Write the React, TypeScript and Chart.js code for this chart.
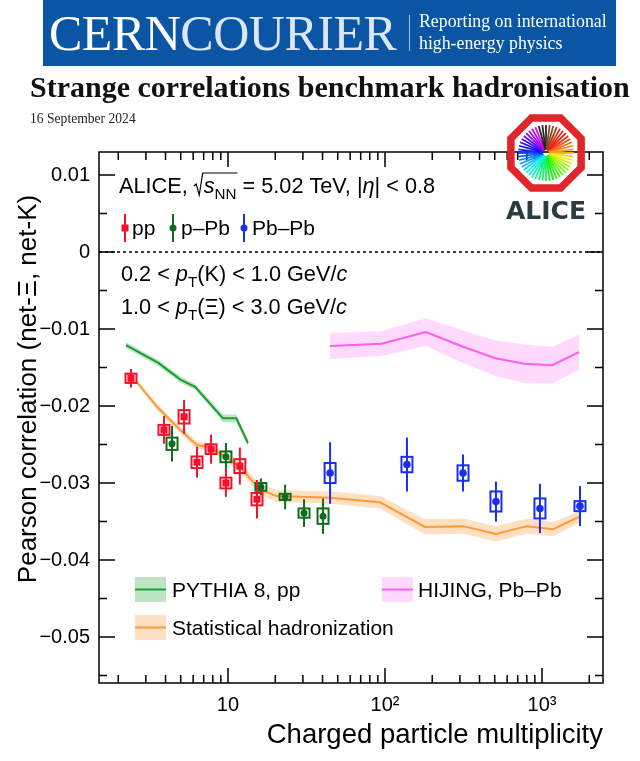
import React, { useEffect, useRef } from "react";
import { Chart, registerables } from "chart.js";
Chart.register(...registerables);

// ---------- axes ----------
const X_MIN = 1.508;
const X_MAX = 2446;
const Y_MIN = -0.05597;
const Y_MAX = 0.01299;
const xTickValues = [10, 100, 1000];
const xTickLabels = ["10", "10²", "10³"];
const yTickValues = [-0.05, -0.04, -0.03, -0.02, -0.01, 0, 0.01];
const yTickLabels = ["−0.05", "−0.04", "−0.03", "−0.02", "−0.01", "0", "0.01"];

// ---------- data: pp ----------
const ppX = [2.41, 3.91, 5.25, 6.35, 7.8, 9.7, 11.9, 15.3];
const ppY = [-0.0164, -0.0231, -0.0214, -0.0273, -0.0256, -0.03, -0.0278, -0.0321];
const ppStat = [0.0012, 0.0018, 0.0022, 0.002, 0.0019, 0.0018, 0.0024, 0.0025];
const ppSyst = [0.0006, 0.00065, 0.00087, 0.00075, 0.00063, 0.0007, 0.0009, 0.0008];

// ---------- data: p-Pb ----------
const pPbX = [4.4, 9.7, 16.2, 23.1, 30.5, 40.3];
const pPbY = [-0.0249, -0.0266, -0.0305, -0.0318, -0.0339, -0.0343];
const pPbStat = [0.0023, 0.0018, 0.0011, 0.0016, 0.0018, 0.0023];
const pPbSyst = [0.0008, 0.0007, 0.0005, 0.0004, 0.0006, 0.001];

// ---------- data: Pb-Pb ----------
const PbPbX = [44.7, 138, 314, 509, 970, 1745];
const PbPbY = [-0.0287, -0.0276, -0.0287, -0.0324, -0.0333, -0.033];
const PbPbStat = [0.004, 0.0035, 0.0024, 0.0026, 0.0032, 0.0026];
const PbPbSyst = [0.0013, 0.001, 0.001, 0.0013, 0.0013, 0.00065];

// ---------- models ----------
const pythiaX = [2.24, 3.6, 5.0, 6.17, 9.3, 11.3, 13.4];
const pythiaY = [-0.0121, -0.0144, -0.0166, -0.0175, -0.0216, -0.0216, -0.0248];
const pythiaErr = [0.0004, 0.0004, 0.0004, 0.0004, 0.0005, 0.0005, 0.0005];

const shX = [2.63, 3.53, 4.73, 6.35, 7.68, 9.3, 11.9, 16, 20.5, 44.7, 93, 180, 314, 509, 802, 1175, 1720];
const shY = [-0.0169, -0.0201, -0.0227, -0.0251, -0.0253, -0.0264, -0.0279, -0.0309, -0.0317, -0.0319, -0.0325, -0.0357, -0.0356, -0.0366, -0.0356, -0.036, -0.0344];
const shErr = [0.0003, 0.0004, 0.0004, 0.0005, 0.0005, 0.0005, 0.0006, 0.0007, 0.0008, 0.0008, 0.0008, 0.001, 0.001, 0.001, 0.001, 0.0009, 0.0008];

const hijingX = [44.7, 95, 182, 314, 505, 770, 1160, 1720];
const hijingY = [-0.0122, -0.0119, -0.0104, -0.0123, -0.0138, -0.0145, -0.0147, -0.013];
const hijingErr = [0.0017, 0.0016, 0.0018, 0.0021, 0.0023, 0.0025, 0.0024, 0.0023];

// ---------- styles ----------
const SANS = '"Liberation Sans", Arial, Helvetica, sans-serif';
const SERIF = '"Liberation Serif", "Times New Roman", serif';
const RED = "#f2132b";
const GREEN_PTS = "#0e6d1d";
const BLUE = "#1a2ef2";
const PYTHIA_LINE = "#1f9b33";
const PYTHIA_BAND = "rgba(70,185,90,0.36)";
const SH_LINE = "#ff9a3a";
const SH_BAND = "rgba(255,170,90,0.36)";
const HIJING_LINE = "#ff5cf0";
const HIJING_BAND = "rgba(255,140,245,0.32)";
const BOX_F = Math.pow(10, 5.5 / 157);

const series = [
  { label: "pp", x: ppX, y: ppY, stat: ppStat, syst: ppSyst, color: RED, style: "rect", r: 5 },
  { label: "p–Pb", x: pPbX, y: pPbY, stat: pPbStat, syst: pPbSyst, color: GREEN_PTS, style: "circle", r: 3.5 },
  { label: "Pb–Pb", x: PbPbX, y: PbPbY, stat: PbPbStat, syst: PbPbSyst, color: BLUE, style: "circle", r: 3.8 },
];

function band(xs: number[], ys: number[], es: number[], fillColor: string, lineColor: string, label: string) {
  const transparent = "rgba(0,0,0,0)";
  return [
    { label: label + " upper", data: xs.map((x, i) => ({ x, y: ys[i] + es[i] })), showLine: true, fill: "+1", backgroundColor: fillColor, borderColor: transparent, borderWidth: 0, pointRadius: 0, order: 10 },
    { label: label + " lower", data: xs.map((x, i) => ({ x, y: ys[i] - es[i] })), showLine: true, fill: false, backgroundColor: transparent, borderColor: transparent, borderWidth: 0, pointRadius: 0, order: 10 },
    { label, data: xs.map((x, i) => ({ x, y: ys[i] })), showLine: true, fill: false, borderColor: lineColor, borderWidth: 2, pointRadius: 0, order: 5 },
  ];
}

type Part = { t: string; it?: boolean; sub?: boolean };
function drawRich(ctx: CanvasRenderingContext2D, x: number, base: number, parts: Part[], size: number) {
  let cx = x;
  for (const p of parts) {
    const s = p.sub ? size * 0.7 : size;
    ctx.font = `${p.it ? "italic " : ""}${s}px ${SANS}`;
    ctx.fillText(p.t, cx, base + (p.sub ? size * 0.28 : 0));
    cx += ctx.measureText(p.t).width;
  }
  return cx;
}

function rayColor(tp: number) {
  if (tp < 300) return `hsl(${Math.round(tp)}, 90%, ${tp > 200 ? 50 : 52}%)`;
  if (tp < 318) return "#262626";
  if (tp < 340) return "#8a4a1e";
  return "hsl(8, 90%, 50%)";
}

const decorPlugin = {
  id: "decor",
  beforeDatasetsDraw(chart: any) {
    const { ctx, chartArea: a, scales } = chart;
    const y0 = scales.y.getPixelForValue(0);
    ctx.save();
    ctx.strokeStyle = "#000";
    ctx.lineWidth = 1.5;
    ctx.setLineDash([3, 3]);
    ctx.beginPath();
    ctx.moveTo(a.left, y0);
    ctx.lineTo(a.right, y0);
    ctx.stroke();
    ctx.restore();
  },
  beforeDatasetDraw(chart: any, args: any) {
    const ds = chart.data.datasets[args.index];
    const s = series.find((q) => q.label === ds.label);
    if (!s) return;
    const { ctx, scales } = chart;
    const xs = scales.x, ys = scales.y;
    ctx.save();
    ctx.strokeStyle = s.color;
    ctx.lineWidth = 2;
    s.x.forEach((xv, i) => {
      const px = xs.getPixelForValue(xv);
      ctx.beginPath();
      ctx.moveTo(px, ys.getPixelForValue(s.y[i] + s.stat[i]));
      ctx.lineTo(px, ys.getPixelForValue(s.y[i] - s.stat[i]));
      ctx.stroke();
      const x1 = xs.getPixelForValue(xv / BOX_F), x2 = xs.getPixelForValue(xv * BOX_F);
      const y1 = ys.getPixelForValue(s.y[i] + s.syst[i]), y2 = ys.getPixelForValue(s.y[i] - s.syst[i]);
      ctx.strokeRect(x1, y1, x2 - x1, y2 - y1);
    });
    ctx.restore();
  },
  afterDraw(chart: any) {
    const { ctx, chartArea: a, scales } = chart;
    const xs = scales.x, ys = scales.y;
    ctx.save();
    // frame
    ctx.strokeStyle = "#000";
    ctx.lineWidth = 1.5;
    ctx.strokeRect(a.left, a.top, a.right - a.left, a.bottom - a.top);
    // y ticks
    ctx.beginPath();
    for (let v = -0.055; v <= 0.0125; v += 0.005) {
      const py = ys.getPixelForValue(v);
      const major = Math.abs(Math.round(v * 100) - v * 100) < 1e-6;
      const len = major ? 16 : 8;
      ctx.moveTo(a.left, py); ctx.lineTo(a.left + len, py);
      ctx.moveTo(a.right, py); ctx.lineTo(a.right - len, py);
    }
    // x ticks
    for (const d of [1, 10, 100, 1000]) {
      for (let m = 1; m <= 9; m++) {
        const v = m * d;
        if (v < X_MIN || v > X_MAX) continue;
        const px = xs.getPixelForValue(v);
        const len = m === 1 ? 15 : 8;
        ctx.moveTo(px, a.bottom); ctx.lineTo(px, a.bottom - len);
        ctx.moveTo(px, a.top); ctx.lineTo(px, a.top + len);
      }
    }
    ctx.stroke();

    // axis titles
    ctx.fillStyle = "#000";
    ctx.font = `27.5px ${SANS}`;
    ctx.textAlign = "right";
    ctx.textBaseline = "alphabetic";
    ctx.fillText("Charged particle multiplicity", a.right, 743);
    ctx.save();
    ctx.translate(36, 389);
    ctx.rotate(-Math.PI / 2);
    ctx.textAlign = "center";
    ctx.font = `26px ${SANS}`;
    ctx.fillText("Pearson correlation (net-Ξ, net-K)", 0, 0);
    ctx.restore();

    // annotations
    ctx.textAlign = "left";
    const F = 21.7;
    let cx = drawRich(ctx, 119, 193, [{ t: "ALICE, " }], F);
    // radical sign
    ctx.lineWidth = 1.2;
    ctx.strokeStyle = "#000";
    const base = 193;
    const rStart = cx;
    cx = drawRich(ctx, rStart + 10, base, [{ t: "s", it: true }, { t: "NN", sub: true }], F);
    ctx.beginPath();
    ctx.moveTo(rStart, base - 7);
    ctx.lineTo(rStart + 2.5, base - 9);
    ctx.lineTo(rStart + 5.5, base + 2);
    ctx.lineTo(rStart + 9, base - 20);
    ctx.lineTo(cx + 1, base - 20);
    ctx.stroke();
    drawRich(ctx, cx, base, [{ t: " = 5.02 TeV, |" }, { t: "η", it: true }, { t: "| < 0.8" }], F);

    drawRich(ctx, 121, 281, [{ t: "0.2 < " }, { t: "p", it: true }, { t: "T", sub: true }, { t: "(K) < 1.0 GeV/" }, { t: "c", it: true }], F);
    drawRich(ctx, 121, 314, [{ t: "1.0 < " }, { t: "p", it: true }, { t: "T", sub: true }, { t: "(Ξ) < 3.0 GeV/" }, { t: "c", it: true }], F);

    // top legend (data)
    const legItems = [
      { s: series[0], mx: 125, tx: 132 },
      { s: series[1], mx: 173, tx: 181 },
      { s: series[2], mx: 244, tx: 252 },
    ];
    for (const it of legItems) {
      ctx.strokeStyle = it.s.color;
      ctx.fillStyle = it.s.color;
      ctx.lineWidth = 2;
      ctx.beginPath();
      ctx.moveTo(it.mx, 214); ctx.lineTo(it.mx, 242);
      ctx.stroke();
      ctx.beginPath();
      if (it.s.style === "rect") ctx.rect(it.mx - 3.5, 224.5, 7, 7);
      else ctx.arc(it.mx, 228, 3.5, 0, Math.PI * 2);
      ctx.fill();
      ctx.fillStyle = "#000";
      drawRich(ctx, it.tx, 235, [{ t: it.s.label }], 21);
    }

    // bottom legend (models)
    const models = [
      { fill: PYTHIA_BAND, line: PYTHIA_LINE, x: 135, y: 577, tx: 172, base: 597, text: "PYTHIA 8, pp" },
      { fill: HIJING_BAND, line: HIJING_LINE, x: 382, y: 577, tx: 418, base: 597, text: "HIJING, Pb–Pb" },
      { fill: SH_BAND, line: SH_LINE, x: 135, y: 615, tx: 172, base: 635, text: "Statistical hadronization" },
    ];
    for (const m of models) {
      ctx.fillStyle = m.fill;
      ctx.fillRect(m.x, m.y, 31, 25);
      ctx.strokeStyle = m.line;
      ctx.lineWidth = 2;
      ctx.beginPath();
      ctx.moveTo(m.x, m.y + 12.5); ctx.lineTo(m.x + 31, m.y + 12.5);
      ctx.stroke();
      ctx.fillStyle = "#000";
      drawRich(ctx, m.tx, m.base, [{ t: m.text }], 21);
    }

    // ALICE logo
    const lx = 546, ly = 153;
    for (let i = 0; i < 48; i++) {
      const th = (i * 360) / 48;
      const tp = (th + 45) % 360;
      const rad = (th * Math.PI) / 180;
      ctx.strokeStyle = rayColor(tp);
      ctx.lineWidth = 1.8;
      ctx.beginPath();
      ctx.moveTo(lx + 3 * Math.cos(rad), ly + 3 * Math.sin(rad));
      ctx.lineTo(lx + 28 * Math.cos(rad), ly + 28 * Math.sin(rad));
      ctx.stroke();
    }
    ctx.strokeStyle = "#e2252b";
    ctx.lineWidth = 7.5;
    ctx.lineJoin = "miter";
    ctx.beginPath();
    for (let k = 0; k < 8; k++) {
      const ang = ((22.5 + 45 * k) * Math.PI) / 180;
      const px = lx + 38 * Math.cos(ang), py = ly + 38 * Math.sin(ang);
      if (k === 0) ctx.moveTo(px, py); else ctx.lineTo(px, py);
    }
    ctx.closePath();
    ctx.stroke();
    ctx.fillStyle = "#2c3a41";
    ctx.font = `bold 25px "DejaVu Sans", sans-serif`;
    ctx.textAlign = "center";
    ctx.textBaseline = "middle";
    ctx.fillText("ALICE", lx, 212);
    ctx.restore();
  },
};

function buildConfig(): any {
  const datasets: any[] = [
    ...band(pythiaX, pythiaY, pythiaErr, PYTHIA_BAND, PYTHIA_LINE, "PYTHIA 8, pp"),
    ...band(shX, shY, shErr, SH_BAND, SH_LINE, "Statistical hadronization"),
    ...band(hijingX, hijingY, hijingErr, HIJING_BAND, HIJING_LINE, "HIJING, Pb–Pb"),
    ...series.map((s) => ({
      label: s.label,
      data: s.x.map((x, i) => ({ x, y: s.y[i] })),
      pointStyle: s.style,
      pointRadius: s.r,
      backgroundColor: s.color,
      borderColor: s.color,
      borderWidth: 0,
      pointBorderWidth: 0,
      order: 1,
    })),
  ];
  return {
    type: "scatter",
    data: { datasets },
    options: {
      animation: false,
      responsive: false,
      maintainAspectRatio: false,
      events: [],
      layout: { padding: { left: 0, right: 37, top: 152, bottom: 0 } },
      plugins: { legend: { display: false }, tooltip: { enabled: false }, title: { display: false } },
      scales: {
        x: {
          type: "logarithmic",
          min: X_MIN,
          max: X_MAX,
          grid: { display: false, drawTicks: false },
          border: { display: false },
          afterBuildTicks: (s: any) => { s.ticks = xTickValues.map((v) => ({ value: v })); },
          afterFit: (s: any) => { s.height = 78; },
          ticks: {
            autoSkip: false,
            maxRotation: 0,
            padding: 10,
            color: "#000",
            font: { family: SANS, size: 20 },
            callback: (_v: any, i: number) => xTickLabels[i],
          },
        },
        y: {
          type: "linear",
          min: Y_MIN,
          max: Y_MAX,
          grid: { display: false, drawTicks: false },
          border: { display: false },
          afterBuildTicks: (s: any) => { s.ticks = yTickValues.map((v) => ({ value: v })); },
          afterFit: (s: any) => { s.width = 99; },
          ticks: {
            autoSkip: false,
            padding: 9,
            color: "#000",
            font: { family: SANS, size: 20 },
            callback: (_v: any, i: number) => yTickLabels[i],
          },
        },
      },
    },
    plugins: [decorPlugin],
  };
}

export default function App() {
  const ref = useRef<HTMLCanvasElement>(null);
  useEffect(() => {
    const chart = new Chart(ref.current as HTMLCanvasElement, buildConfig());
    return () => chart.destroy();
  }, []);
  return (
    <div style={{ position: "absolute", left: 0, top: 0, width: 640, height: 761, background: "#fff", overflow: "hidden" }}>
      <canvas ref={ref} width={640} height={761} style={{ position: "absolute", left: 0, top: 0, width: 640, height: 761 }} />
      <div style={{ position: "absolute", left: 43, top: 0, width: 573, height: 66, background: "#0a56a4" }}>
        <div style={{ position: "absolute", left: 6, top: 3, fontFamily: SERIF, fontSize: 50, lineHeight: "60px", color: "#fff", whiteSpace: "nowrap", letterSpacing: -0.5 }}>
          CERN<span style={{ color: "#dbe7f6" }}>COURIER</span>
        </div>
        <div style={{ position: "absolute", left: 366, top: 15, width: 1, height: 36, background: "rgba(255,255,255,0.65)" }} />
        <div style={{ position: "absolute", left: 376, top: 10, fontFamily: SERIF, fontSize: 17.8, lineHeight: "22px", color: "#fff", whiteSpace: "nowrap" }}>
          Reporting on international
          <br />
          high-energy physics
        </div>
      </div>
      <div style={{ position: "absolute", left: 30, top: 69, fontFamily: SERIF, fontWeight: "bold", fontSize: 30, lineHeight: "36px", color: "#111", whiteSpace: "nowrap" }}>
        Strange correlations benchmark hadronisation
      </div>
      <div style={{ position: "absolute", left: 30, top: 111, fontFamily: SERIF, fontSize: 13.6, lineHeight: "16px", color: "#222", whiteSpace: "nowrap" }}>
        16 September 2024
      </div>
    </div>
  );
}
